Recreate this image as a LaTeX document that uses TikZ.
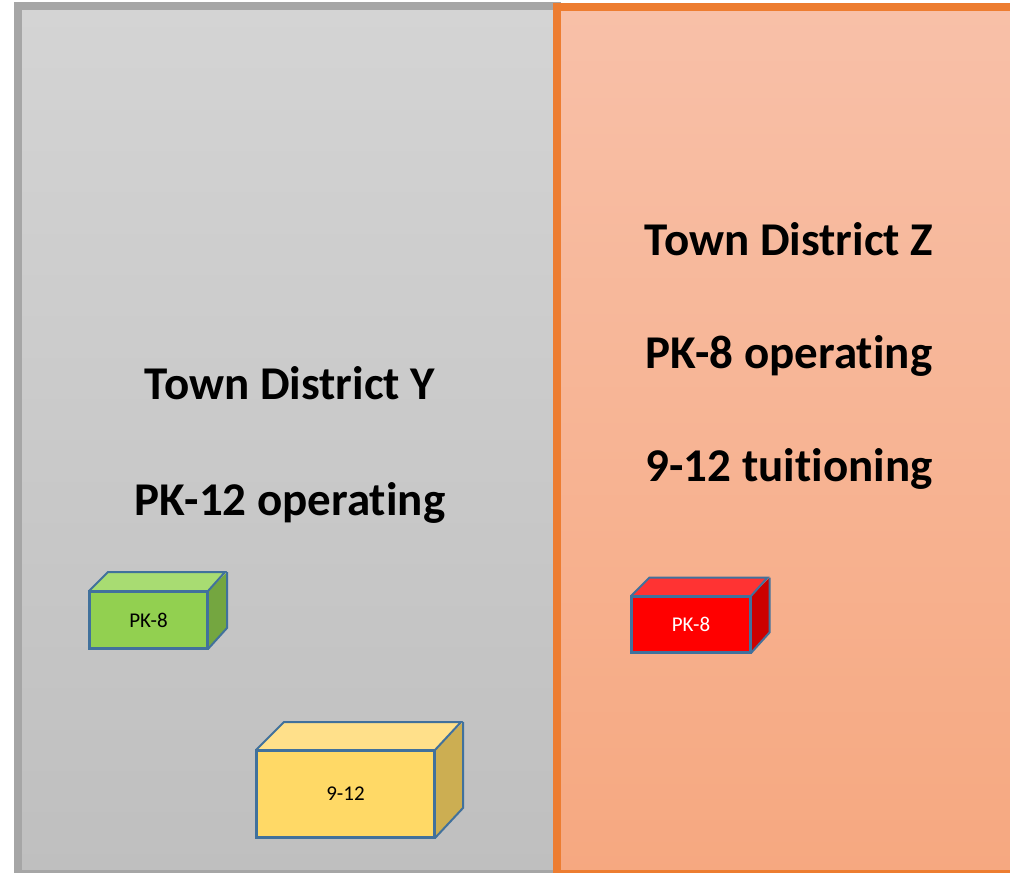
\documentclass[tikz,border=0pt]{standalone}
\usepackage{fontspec}
\setmainfont[Ligatures={NoCommon,NoRare}]{Carlito}
\definecolor{grayfillT}{HTML}{D4D4D4}
\definecolor{grayfillB}{HTML}{BFBFBF}
\definecolor{grayedge}{HTML}{A6A6A6}
\definecolor{orfillT}{HTML}{F8C0A8}
\definecolor{orfillB}{HTML}{F6A880}
\definecolor{oredge}{HTML}{ED7D31}
\definecolor{boxedge}{HTML}{41719C}
\definecolor{gfront}{HTML}{92D050}
\definecolor{gtop}{HTML}{A8DC72}
\definecolor{gside}{HTML}{74A640}
\definecolor{yfront}{HTML}{FFD966}
\definecolor{ytop}{HTML}{FFE08A}
\definecolor{yside}{HTML}{CCAE52}
\definecolor{rfront}{HTML}{FF0000}
\definecolor{rtop}{HTML}{FF3333}
\definecolor{rside}{HTML}{CC0000}
\tikzset{
  bigtext/.style={font=\fontsize{47}{56}\selectfont\bfseries, anchor=base, inner sep=0pt},
  facebox/.style={draw=boxedge, line width=2pt, line join=miter, inner sep=0pt,
     font=\fontsize{20}{24}\selectfont},
  face/.style={draw=boxedge, line width=2pt, line join=miter},
  boxlabel/.style={font=\fontsize{21}{24}\selectfont}
}
\newcommand{\mycuboid}[9]{%
  \node[facebox, fill=#7, minimum width=#4pt, minimum height=#5pt] (#1) at (#2,#3) {};
  \fill[#8] (#1.north west) -- ++(#6,-#6) -- ++(#4,0) -- (#1.north east) -- cycle;
  \fill[#9] (#1.north east) -- ++(#6,-#6) -- ++(0,#5) -- (#1.south east) -- cycle;
  \draw[face] (#1.north west) -- ++(#6,-#6) -- ++(#4,0) -- (#1.north east);
  \draw[face] (#1.north east) ++(#6,-#6) -- ++(0,#5) -- (#1.south east);
  \draw[face] (#1.north west) rectangle (#1.south east);
}
\begin{document}
\begin{tikzpicture}[x=1pt,y=-1pt]
\useasboundingbox (0,0) rectangle (1010,873);
\clip (0,0) rectangle (1010,873);
\fill[white] (0,0) rectangle (1010,873);
% left panel
\shade[top color=grayfillT, bottom color=grayfillB] (18,6) rectangle (557,874);
\draw[grayedge, line width=8pt] (18,6) rectangle (557,874);
% right panel
\shade[top color=orfillT, bottom color=orfillB] (557,7) rectangle (1016,874);
\draw[oredge, line width=8pt] (557,7) rectangle (1016,874);
% texts
\node[bigtext] (ty) at (290,399) {Town District Y};
\node[bigtext] (py) at (290,515) {PK-12 operating};
\node[bigtext] (tz) at (789,255) {Town District Z};
\node[bigtext] (pz) at (789,368) {PK-8 operating};
\node[bigtext] (nz) at (789,481) {9-12 tuitioning};
% cuboids
\mycuboid{gbox}{148.5}{620}{117}{56}{19}{gfront}{gtop}{gside}
\node[boxlabel] (gl) at (gbox.center) {PK-8};
\mycuboid{ybox}{345.5}{794}{177}{86}{28}{yfront}{ytop}{yside}
\node[boxlabel] (yl) at (ybox.center) {9-12};
\mycuboid{rbox}{691}{624.5}{118}{55}{18.5}{rfront}{rtop}{rside}
\node[boxlabel, text=white] (rl) at (rbox.center) {PK-8};
\end{tikzpicture}
\end{document}
